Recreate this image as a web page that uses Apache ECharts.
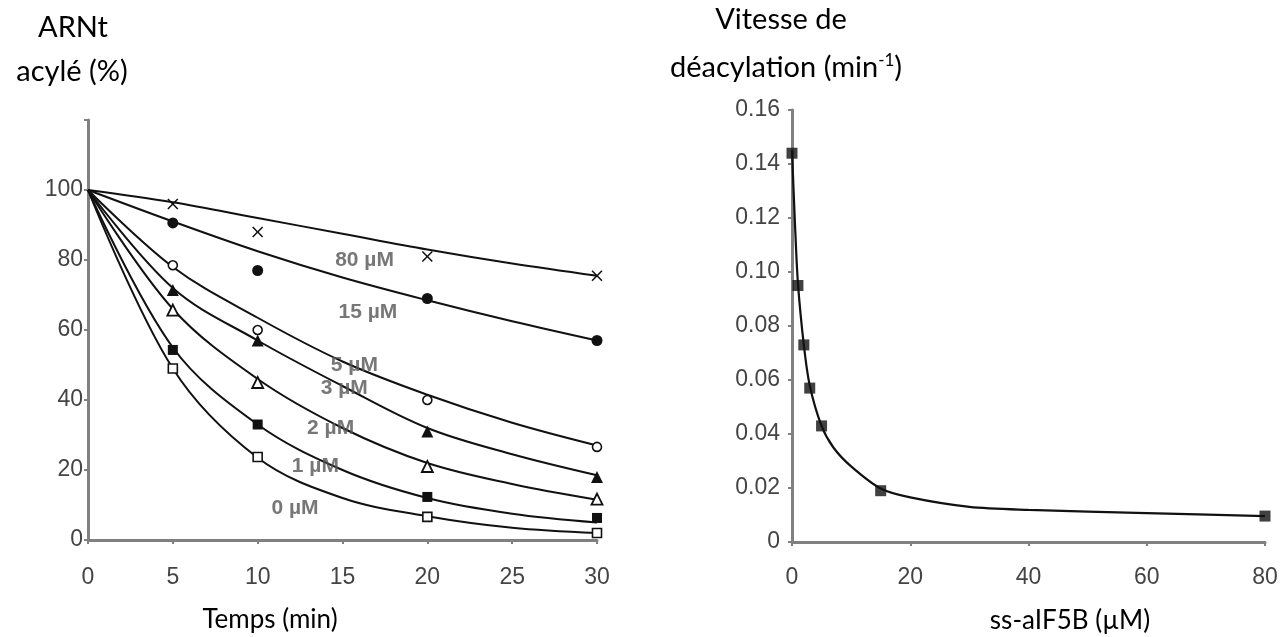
<!DOCTYPE html>
<html>
<head>
<meta charset="utf-8">
<script src="https://cdn.jsdelivr.net/npm/echarts@6/dist/echarts.min.js"></script>
<style>html,body{margin:0;padding:0;background:#fff}#c{width:1287px;height:637px}</style>
</head>
<body>
<div id="c"></div>
<script>
// ---------- Left panel data ----------
const timeTicks = [0, 5, 10, 15, 20, 25, 30];
const sampleTimes = [5, 10, 20, 30];
const concLabels = ['80 µM', '15 µM', '5 µM', '3 µM', '2 µM', '1 µM', '0 µM'];
// measured points (% acylated tRNA)
const pts80 = [96, 88, 81, 75.5];
const pts15 = [90.6, 77, 69, 57];
const pts5 = [78.5, 60, 40, 26.6];
const pts3 = [71.4, 57, 31, 18];
const pts2 = [65.7, 45, 21, 11.7];
const pts1 = [54.3, 33, 12.3, 6.3];
const pts0 = [49, 23.7, 6.6, 2];
// fitted curves read at timeTicks
const fit80 = [100, 96.5, 92, 87.5, 83, 79, 75.5];
const fit15 = [100, 91, 82.5, 75, 68.5, 62.5, 57];
const fit5 = [100, 78, 63.5, 51, 41.5, 33.5, 27];
const fit3 = [100, 72, 57, 44, 32, 24.5, 18.5];
const fit2 = [100, 66, 46, 32, 22, 16, 11.5];
const fit1 = [100, 55, 33, 20, 12, 7.5, 5];
const fit0 = [100, 49, 23.5, 12, 6.8, 3.5, 2];
// curve label anchors (time, %)
const labelT = [16.3, 16.5, 15.7, 15.1, 14.3, 13.4, 12.2];
const labelV = [80, 65, 50, 43.4, 32, 21, 9];
const leftYTicks = [0, 20, 40, 60, 80, 100];

// ---------- Right panel data ----------
const ssConc = [0, 1, 2, 3, 5, 15, 80];
const rate = [0.144, 0.095, 0.073, 0.057, 0.043, 0.019, 0.0096];
const fitConc = [0, 0.5, 1, 2, 3, 5, 7, 10, 15, 20, 30, 40, 60, 80];
const fitRate = [0.145, 0.118, 0.096, 0.073, 0.058, 0.043, 0.035, 0.028, 0.0198, 0.0165, 0.013, 0.0119, 0.0107, 0.0096];

const pair = (xs, ys) => xs.map((x, i) => [x, ys[i]]);

const crossPath = 'path://M0,1L1,0L5,4L9,0L10,1L6,5L10,9L9,10L5,6L1,10L0,9L4,5Z';
const markerDefs = [
  {d: pts80, f: fit80, sym: crossPath, size: 11, fill: '#111', bw: 0},
  {d: pts15, f: fit15, sym: 'circle', size: 11, fill: '#111', bw: 0},
  {d: pts5, f: fit5, sym: 'circle', size: 9, fill: '#fff', bw: 1.6},
  {d: pts3, f: fit3, sym: 'triangle', size: 12, fill: '#111', bw: 0},
  {d: pts2, f: fit2, sym: 'triangle', size: 11, fill: '#fff', bw: 1.8},
  {d: pts1, f: fit1, sym: 'rect', size: 10, fill: '#111', bw: 0},
  {d: pts0, f: fit0, sym: 'rect', size: 9, fill: '#fff', bw: 1.6}
];

const axisLine = {lineStyle: {color: '#808080', width: 3}};
const axisTick = {show: true, length: 4, lineStyle: {color: '#808080', width: 2}};
const tickFont = {color: '#444', fontFamily: 'Liberation Sans', fontSize: 23};

const series = [];
markerDefs.forEach((m, i) => {
  series.push({
    type: 'line', xAxisIndex: 0, yAxisIndex: 0,
    data: pair(timeTicks, m.f), smooth: 0.35, showSymbol: false,
    lineStyle: {color: '#111', width: 2}, z: 2, silent: true
  });
  series.push({
    type: 'scatter', xAxisIndex: 0, yAxisIndex: 0,
    data: pair(sampleTimes, m.d), symbol: m.sym, symbolSize: m.size,
    itemStyle: {color: m.fill, borderColor: '#111', borderWidth: m.bw, opacity: 1}, z: 5
  });
});
series.push({
  type: 'scatter', xAxisIndex: 0, yAxisIndex: 0, symbolSize: 0,
  data: labelT.map((t, i) => ({value: [t, labelV[i]], name: concLabels[i]})),
  label: {show: true, position: 'inside', formatter: p => p.name,
    fontFamily: 'Liberation Sans', fontSize: 21, fontWeight: 'bold', color: '#555'},
  z: 6, silent: true
});
series.push({
  type: 'line', xAxisIndex: 1, yAxisIndex: 1,
  data: pair(fitConc, fitRate), smooth: 0.3, showSymbol: false,
  lineStyle: {color: '#111', width: 2.2}, z: 2, silent: true
});
series.push({
  type: 'scatter', xAxisIndex: 1, yAxisIndex: 1,
  data: pair(ssConc, rate), symbol: 'rect', symbolSize: 11,
  itemStyle: {color: '#111'}, z: 5
});

const titleFont = 'Lato';
const tf = '29px ' + titleFont;
const option = {
  animation: false,
  backgroundColor: '#fff',
  grid: [
    {left: 88, top: 120, width: 509, height: 420},
    {left: 792, top: 110, width: 473, height: 432}
  ],
  xAxis: [
    {gridIndex: 0, type: 'value', min: 0, max: 30, interval: 5, splitLine: {show: false},
      axisLine: axisLine, axisTick: axisTick, axisLabel: Object.assign({margin: 26}, tickFont)},
    {gridIndex: 1, type: 'value', min: 0, max: 80, interval: 20, splitLine: {show: false},
      axisLine: axisLine, axisTick: axisTick, axisLabel: Object.assign({margin: 24}, tickFont)}
  ],
  yAxis: [
    {gridIndex: 0, type: 'value', min: 0, max: 120, interval: 20, splitLine: {show: false},
      axisLine: Object.assign({show: true}, axisLine), axisTick: axisTick,
      axisLabel: Object.assign({margin: 5, formatter: v => leftYTicks.indexOf(v) >= 0 ? String(v) : ''}, tickFont)},
    {gridIndex: 1, type: 'value', min: 0, max: 0.16, interval: 0.02, splitLine: {show: false},
      axisLine: Object.assign({show: true}, axisLine), axisTick: axisTick,
      axisLabel: Object.assign({margin: 12, formatter: v => v === 0 ? '0' : v.toFixed(2)}, tickFont)}
  ],
  graphic: [
    {type: 'text', x: 73, y: 28, style: {text: 'ARNt', font: tf, fill: '#000', textAlign: 'center', textVerticalAlign: 'middle'}},
    {type: 'text', x: 72, y: 72, style: {text: 'acylé (%)', font: tf, fill: '#000', textAlign: 'center', textVerticalAlign: 'middle'}},
    {type: 'text', x: 781, y: 20, style: {text: 'Vitesse de', font: tf, fill: '#000', textAlign: 'center', textVerticalAlign: 'middle'}},
    {type: 'text', x: 786, y: 68, style: {
      text: '{a|déacylation (min}{s|-1}{a|)}', textAlign: 'center', textVerticalAlign: 'middle',
      rich: {
        a: {fontFamily: titleFont, fontSize: 29, color: '#000', lineHeight: 32},
        s: {fontFamily: titleFont, fontSize: 17, color: '#000', verticalAlign: 'top', lineHeight: 32, padding: [0, 0, 12, 0]}
      }}},
    {type: 'text', x: 270, y: 620, style: {text: 'Temps (min)', font: '26px ' + titleFont, fill: '#000', textAlign: 'center', textVerticalAlign: 'middle'}},
    {type: 'text', x: 1070, y: 621, style: {text: 'ss-aIF5B (µM)', font: '26px ' + titleFont, fill: '#000', textAlign: 'center', textVerticalAlign: 'middle'}}
  ],
  series: series
};

const chart = echarts.init(document.getElementById('c'), null, {renderer: 'canvas'});
chart.setOption(option);
</script>
</body>
</html>
